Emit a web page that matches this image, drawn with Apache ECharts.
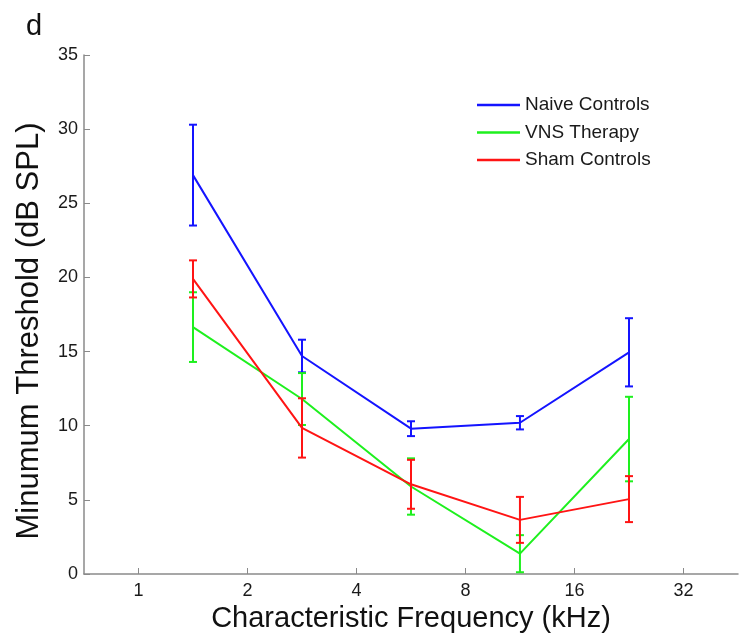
<!DOCTYPE html>
<html>
<head>
<meta charset="utf-8">
<script src="https://cdn.jsdelivr.net/npm/echarts@6/dist/echarts.min.js"></script>
<style>
html,body{margin:0;padding:0;background:#fff;}
#main{width:739px;height:641px;}
</style>
</head>
<body>
<div id="main"></div>
<script>
// ---- data ----
const freqs = [1.414, 2.828, 5.657, 11.31, 22.63];      // kHz
const xTicks = [1, 2, 4, 8, 16, 32];
const yTicks = [0, 5, 10, 15, 20, 25, 30, 35];
const seriesNames = ['Naive Controls', 'VNS Therapy', 'Sham Controls'];
const naiveMean = [26.9, 14.7, 9.8, 10.2, 14.95];
const naiveErr  = [3.4, 1.1, 0.5, 0.45, 2.3];
const vnsMean   = [16.65, 11.8, 5.9, 1.37, 9.1];
const vnsErr    = [2.35, 1.75, 1.9, 1.25, 2.85];
const shamMean  = [19.9, 9.85, 6.05, 3.65, 5.05];
const shamErr   = [1.25, 2.0, 1.65, 1.55, 1.55];

const colors = ['#1414ff', '#1ef01e', '#ff1414'];
const means = [naiveMean, vnsMean, shamMean];
const errs = [naiveErr, vnsErr, shamErr];

const FONT = '"Liberation Sans", Arial, Helvetica, sans-serif';
const chart = echarts.init(document.getElementById('main'), null, {renderer: 'canvas'});

function errRender(color) {
  return function (params, api) {
    const x = api.value(0), lo = api.value(1), hi = api.value(2);
    const pH = api.coord([x, hi]);
    const pL = api.coord([x, lo]);
    const w = 4;
    const st = {stroke: color, lineWidth: 2};
    return {
      type: 'group',
      children: [
        {type: 'line', shape: {x1: pH[0], y1: pH[1], x2: pL[0], y2: pL[1]}, style: st},
        {type: 'line', shape: {x1: pH[0] - w, y1: pH[1], x2: pH[0] + w, y2: pH[1]}, style: st},
        {type: 'line', shape: {x1: pL[0] - w, y1: pL[1], x2: pL[0] + w, y2: pL[1]}, style: st}
      ]
    };
  };
}

const series = [];
seriesNames.forEach((name, i) => {
  series.push({
    name: name,
    type: 'line',
    data: freqs.map((f, j) => [f, means[i][j]]),
    symbol: 'none',
    lineStyle: {color: colors[i], width: 2},
    itemStyle: {color: colors[i]},
    z: 2 + i * 2
  });
  series.push({
    name: name + ' err',
    type: 'custom',
    renderItem: errRender(colors[i]),
    data: freqs.map((f, j) => [f, means[i][j] - errs[i][j], means[i][j] + errs[i][j]]),
    encode: {x: 0, y: [1, 2]},
    z: 3 + i * 2,
    silent: true
  });
});

chart.setOption({
  animation: false,
  backgroundColor: '#fff',
  textStyle: {fontFamily: FONT},
  title: {
    text: 'd', left: 21, top: 7,
    textStyle: {fontFamily: FONT, fontSize: 29, fontWeight: 'normal', color: '#111'}
  },
  graphic: [{
    type: 'text',
    x: 29, y: 331,
    rotation: Math.PI / 2,
    style: {
      text: 'Minumum Threshold (dB SPL)',
      fontFamily: FONT, fontSize: 31, fill: '#111',
      align: 'center', verticalAlign: 'middle'
    }
  }],
  legend: {
    orient: 'vertical',
    left: 477, top: 95, padding: 0,
    data: seriesNames.map((n, i) => ({name: n, icon: 'rect', itemStyle: {color: colors[i]}})),
    itemWidth: 43, itemHeight: 2.5,
    itemGap: 7.5,
    textStyle: {fontFamily: FONT, fontSize: 19, color: '#1a1a1a', lineHeight: 20}
  },
  grid: {left: 84, right: 1, top: 55, bottom: 67, containLabel: false},
  xAxis: {
    type: 'log', logBase: 2,
    min: Math.SQRT1_2, max: 32 * Math.SQRT2,
    name: 'Characteristic Frequency (kHz)',
    nameLocation: 'middle', nameGap: 28,
    nameTextStyle: {fontFamily: FONT, fontSize: 29, color: '#111'},
    axisLine: {lineStyle: {color: '#8a8a8a', width: 1.5}},
    axisTick: {inside: true, length: 6, customValues: xTicks, lineStyle: {color: '#8a8a8a', width: 1}},
    axisLabel: {customValues: xTicks, margin: 8, fontSize: 18, color: '#1a1a1a', fontFamily: FONT,
      formatter: v => String(Math.round(v))},
    splitLine: {show: false}
  },
  yAxis: {
    type: 'value', min: 0, max: 35, interval: 5,
    axisLine: {show: true, lineStyle: {color: '#8a8a8a', width: 1.5}},
    axisTick: {show: true, inside: true, length: 6, customValues: yTicks, lineStyle: {color: '#8a8a8a', width: 1}},
    axisLabel: {customValues: yTicks, margin: 6, fontSize: 18, color: '#1a1a1a', fontFamily: FONT},
    splitLine: {show: false}
  },
  series: series
});
</script>
</body>
</html>
